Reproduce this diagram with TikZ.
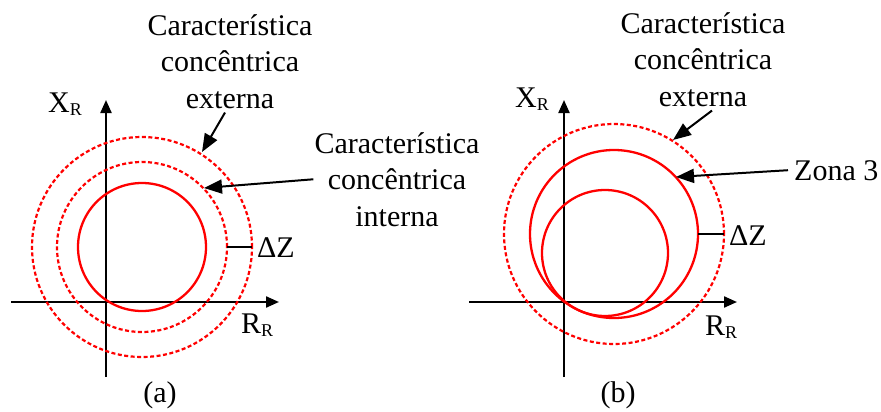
\documentclass[tikz,border=0pt]{standalone}
\usepackage{fontspec}
\setmainfont{Liberation Serif}
\usetikzlibrary{arrows.meta}
\newcommand{\subidx}[1]{\raisebox{-3.5pt}{\fontsize{18}{18}\selectfont #1}}

\begin{document}
\begin{tikzpicture}[x=1pt, y=-1pt,
  lbl/.style={font=\fontsize{30}{36.5}\selectfont, inner sep=0pt, align=center},
  axis/.style={line width=2.2pt, -{Triangle[length=13pt,width=11pt]}},
  zona/.style={red, line width=2.3pt},
  dotzona/.style={red, line width=2.2pt, dash pattern=on 4pt off 2.5pt},
  callout/.style={line width=2pt, -{Triangle[length=18pt,width=14pt]}}]
  \useasboundingbox (0,0) rectangle (881,412);

  % (a) 軸
  \draw[axis] (106,377) -- (106,100);
  \draw[axis] (11,302) -- (279,302);

  % (a) 円
  \draw[zona] (142,247) circle (64pt);
  \draw[dotzona] (142,247) circle (85pt);
  \draw[dotzona] (142,247) circle (110pt);
  \draw[line width=2.2pt] (227,247) -- (252,247);

  \node[lbl, anchor=base west] (xA) at (48,112) {X\subidx{R}};
  \node[lbl, anchor=base west] (rA) at (241,333) {R\subidx{R}};
  \node[lbl, anchor=base west] (dzA) at (257,257) {ΔZ};
  \node[lbl, anchor=base] (capA) at (160,402) {(a)};
  \node[lbl, anchor=north] (extA) at (230,14) {Característica\\concêntrica\\externa};
  \node[lbl, anchor=north] (intA) at (397,132) {Característica\\concêntrica\\interna};

  % (a) 矢印
  \coordinate (extAtip) at (202,152);
  \coordinate (intAtip) at (204,188);
  \draw[callout] ([xshift=-5pt,yshift=-4pt]extA.south) -- (extAtip);
  \draw[callout] ([xshift=-1pt]intA.west) -- (intAtip);

  % (b) 軸
  \draw[axis] (564,377) -- (564,100);
  \draw[axis] (469,302) -- (737,302);

  % (b) 円
  \draw[dotzona] (614,234) circle (110pt);
  \draw[zona] (614,234) circle (84pt);
  \draw[zona] (605,253) circle (63pt);
  \draw[line width=2.2pt] (698,234) -- (724,234);

  \node[lbl, anchor=base west] (xB) at (515,107) {X\subidx{R}};
  \node[lbl, anchor=base west] (rB) at (705,335) {R\subidx{R}};
  \node[lbl, anchor=base west] (dzB) at (729,245) {ΔZ};
  \node[lbl, anchor=base] (capB) at (618,402) {(b)};
  \node[lbl, anchor=north] (extB) at (703,12) {Característica\\concêntrica\\externa};
  \node[lbl, anchor=base west] (zona3) at (794,180) {Zona 3};

  % (b) 矢印
  \coordinate (extBtip) at (673,140);
  \coordinate (zona3tip) at (676,177);
  \draw[callout] ([xshift=9pt,yshift=-4pt]extB.south) -- (extBtip);
  \draw[callout] ([xshift=-6pt]zona3.west) -- (zona3tip);
\end{tikzpicture}
\end{document}
